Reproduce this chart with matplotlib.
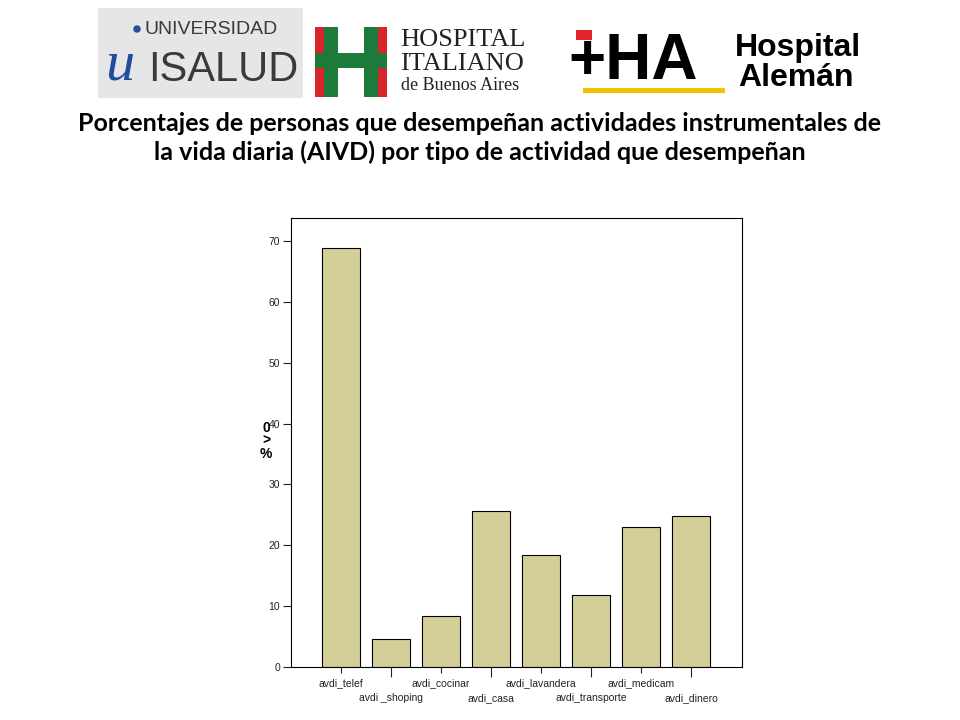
"""Porcentaje de personas que desempeñan AIVD por tipo de actividad."""

import matplotlib
matplotlib.use("Agg")
import matplotlib.pyplot as plt
from matplotlib.patches import Rectangle, Polygon

categorias = ["avdi_telef", "avdi _shoping", "avdi_cocinar", "avdi_casa", "avdi_lavandera",
              "avdi_transporte", "avdi_medicam", "avdi_dinero"]
porcentajes = [68.8, 4.6, 8.4, 25.6, 18.4, 11.8, 23.0, 24.8]
yticks = [0, 10, 20, 30, 40, 50, 60, 70]

TITULO = ("Porcentajes de personas que desempeñan actividades instrumentales de\n"
          "la vida diaria (AIVD) por tipo de actividad que desempeñan")

plt.rcParams["font.family"] = ["Liberation Sans", "DejaVu Sans"]

fig = plt.figure(figsize=(9.6, 7.2), dpi=100)
fig.patch.set_facecolor("white")

# --- logos (aproximados con formas y texto) ---
lg = fig.add_axes([0, 0, 1, 1], zorder=0)
lg.set_xlim(0, 960)
lg.set_ylim(720, 0)
lg.axis("off")

# ISALUD
lg.add_patch(Rectangle((98, 8), 205, 90, facecolor="#e6e6e6", edgecolor="none"))
lg.text(144, 30, "UNIVERSIDAD", fontsize=14, color="#3a3a3a", va="center", ha="left")
lg.text(148, 70, "ISALUD", fontsize=30, color="#3a3a3a", va="center", ha="left")
lg.text(105, 66, "u", fontsize=42, color="#1f4e9c", va="center", ha="left",
        style="italic", family="Liberation Serif")
lg.add_patch(plt.Circle((137, 29), 3, color="#1f4e9c"))

# Hospital Italiano
lg.add_patch(Rectangle((315, 27), 9, 70, facecolor="#d7262b", edgecolor="none"))
lg.add_patch(Rectangle((378, 27), 9, 70, facecolor="#d7262b", edgecolor="none"))
lg.add_patch(Rectangle((324, 27), 14, 70, facecolor="#1c7a3a", edgecolor="none"))
lg.add_patch(Rectangle((364, 27), 14, 70, facecolor="#1c7a3a", edgecolor="none"))
lg.add_patch(Rectangle((315, 53), 72, 15, facecolor="#1c7a3a", edgecolor="none"))
lg.text(400, 40, "HOSPITAL", fontsize=19, family="Liberation Serif", va="center", color="#222222")
lg.text(400, 64, "ITALIANO", fontsize=19, family="Liberation Serif", va="center", color="#222222")
lg.text(401, 86, "de Buenos Aires", fontsize=13, family="Liberation Serif", va="center", color="#222222")

# Hospital Alemán
lg.add_patch(Polygon([(576, 30), (592, 30), (592, 40), (576, 40)], facecolor="#e0262b"))
lg.add_patch(Polygon([(583, 88), (725, 88), (725, 93), (583, 93)], facecolor="#f2c200"))
lg.text(568, 62, "+HA", fontsize=46, fontweight="bold", va="center", ha="left", color="black")
lg.text(735, 48, "Hospital", fontsize=23, fontweight="bold", va="center", color="black")
lg.text(738, 78, "Alemán", fontsize=23, fontweight="bold", va="center", color="black")

fig.text(0.5, 0.808, TITULO, ha="center", va="center", fontsize=18, fontweight="bold",
         linespacing=1.3, family=["Lato", "Liberation Sans"])

# --- gráfico ---
ax = fig.add_axes([291 / 960, 53 / 720, 451 / 960, 449 / 720], zorder=1)
x = list(range(len(categorias)))
ax.bar(x, porcentajes, width=0.77, color="#d4cf99", edgecolor="black", linewidth=0.8)
ax.set_xlim(-1, 8.02)
ax.set_ylim(0, 73.8)
ax.set_yticks(yticks)
ax.set_yticklabels([str(v) for v in yticks], fontsize=7.5, color="#222222")

# etiquetas alternadas en dos filas
pares = x[0::2]
impares = x[1::2]
ax.set_xticks(pares)
ax.set_xticklabels(categorias[0::2], fontsize=7.5, color="#222222")
ax.set_xticks(impares, minor=True)
ax.set_xticklabels(categorias[1::2], minor=True, fontsize=7.5, color="#222222")
ax.tick_params(axis="y", which="major", length=6, width=0.8, color="#222222", pad=2)
ax.tick_params(axis="x", which="major", length=4.5, width=0.8, color="#222222", pad=3.5)
ax.tick_params(axis="x", which="minor", length=7.5, width=0.8, color="#222222", pad=11)
for s in ax.spines.values():
    s.set_linewidth(0.8)

fig.text(266 / 960, 1 - 441 / 720, "0\n>\n%", ha="center", va="center", fontsize=10,
         fontweight="bold", linespacing=0.9)

fig.savefig("out.png", dpi=100)
